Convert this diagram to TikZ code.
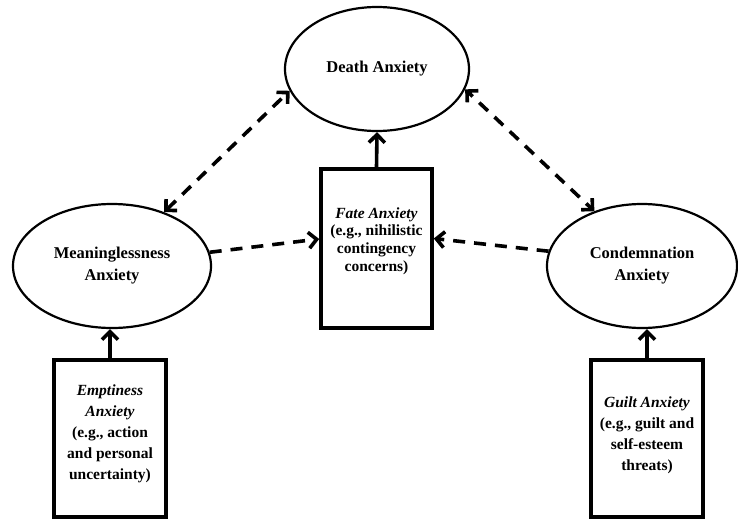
\documentclass[tikz,border=0pt]{standalone}
\usepackage{fontspec}
\setmainfont{Liberation Serif}
\usetikzlibrary{shapes.geometric,arrows.meta}
\begin{document}
\begin{tikzpicture}[x=1pt,y=-1pt,
  oval/.style={draw,ellipse,line width=2.2pt,inner sep=0pt,align=center,
    font=\fontsize{16.5}{22}\selectfont\bfseries},
  factbox/.style={draw,rectangle,line width=3.6pt,inner sep=0pt},
  boxtext/.style={align=center,font=\fontsize{15.5}{21}\selectfont\bfseries},
  solidarrow/.style={line width=3.6pt,-{Straight Barb[length=8pt,width=16pt]}},
  dasharrow/.style={line width=3.6pt,dash pattern=on 12pt off 9pt,-{Straight Barb[length=8pt,width=16pt]}},
  bidash/.style={line width=3.6pt,dash pattern=on 12pt off 9pt,{Straight Barb[length=8pt,width=16pt]}-{Straight Barb[length=8pt,width=16pt]}}
]
\useasboundingbox (0,0) rectangle (738,519);
\node[oval,minimum width=184pt,minimum height=124pt] (death) at (377,69) {Death Anxiety};
\node[oval,minimum width=198pt,minimum height=124pt] (mean) at (112,266) {Meaninglessness\\Anxiety};
\node[oval,minimum width=190pt,minimum height=124pt] (cond) at (642,266) {Condemnation\\Anxiety};
\node[factbox,minimum width=111pt,minimum height=159pt] (fate) at (376.5,248.5) {};
\node[factbox,minimum width=112pt,minimum height=157pt] (empty) at (110,438.5) {};
\node[factbox,minimum width=112pt,minimum height=157pt] (guilt) at (647,438.5) {};
\node[boxtext,font=\fontsize{15.5}{17.7}\selectfont\bfseries] (fatet) at (376.5,241) {\textit{Fate Anxiety}\\(e.g., nihilistic\\contingency\\concerns)};
\node[boxtext] (emptyt) at (110,434) {\textit{Emptiness}\\\textit{Anxiety}\\(e.g., action\\and personal\\uncertainty)};
\node[boxtext] (guiltt) at (647,435) {\textit{Guilt Anxiety}\\(e.g., guilt and\\self-esteem\\threats)};
\draw[solidarrow] (fate.north) -- (death.south);
\draw[solidarrow] (empty.north) -- (empty.north |- mean.south);
\draw[solidarrow] (guilt.north) -- (guilt.north |- cond.south);
\draw[bidash] (mean.46) -- (death.194);
\draw[bidash,dash phase=6pt] (death.347) -- (cond.131.6);
\draw[dasharrow] (mean.8) -- ([yshift=9.5pt]fate.west);
\draw[dasharrow] (cond.171) -- ([yshift=10pt]fate.east);
\end{tikzpicture}
\end{document}
